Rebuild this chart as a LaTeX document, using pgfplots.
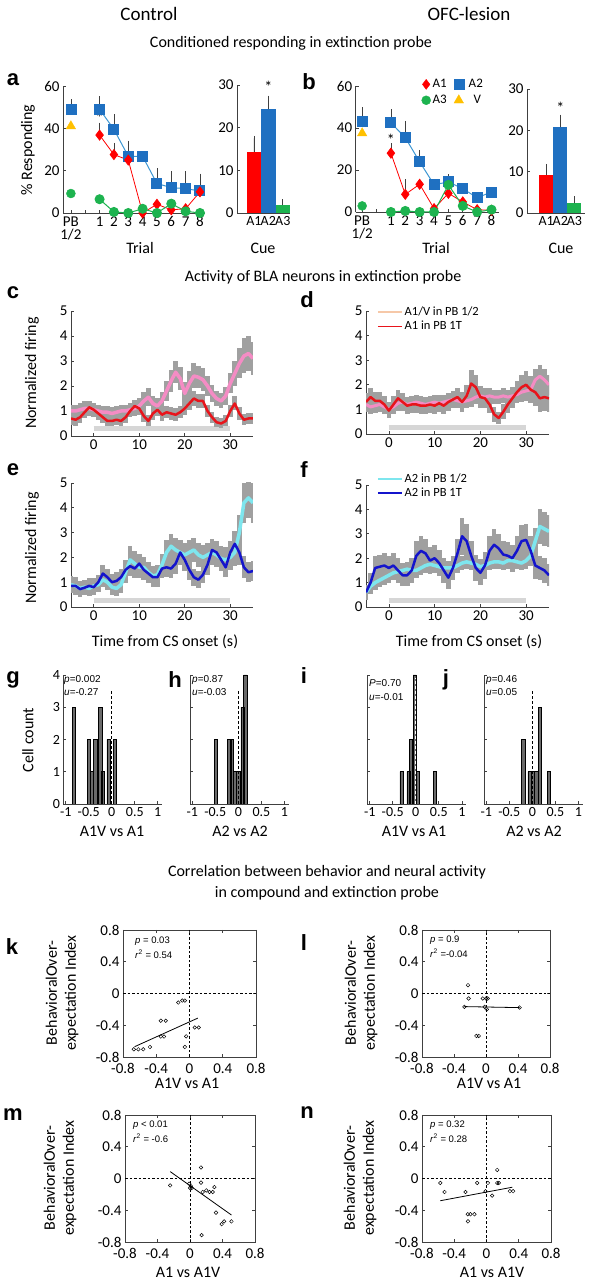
\documentclass[border=0pt]{standalone}
\usepackage{fontspec}
\setmainfont{Carlito}
\newfontfamily\arial{Liberation Sans}
\usepackage{pgfplots}
\usepackage{pgfplotstable}
\pgfplotsset{compat=1.18}
\newcommand{\fs}[1]{\fontsize{#1}{#1}\selectfont}
\definecolor{cRed}{HTML}{FF0000}
\definecolor{cBlue}{HTML}{1F70C1}
\definecolor{cBlueLine}{HTML}{3C96D2}
\definecolor{cGreen}{HTML}{1DB34F}
\definecolor{cYellow}{HTML}{FFC000}
\definecolor{cPink}{HTML}{F48CC4}
\definecolor{cPeach}{HTML}{F6C8A8}
\definecolor{cTraceRed}{HTML}{E8141B}
\definecolor{cCyan}{HTML}{7EE6EE}
\definecolor{cDBlue}{HTML}{1414CC}
\definecolor{bandgray}{HTML}{A0A0A0}
\definecolor{cStim}{HTML}{D6D6D6}
\definecolor{histgray}{HTML}{6A6A6A}

\pgfplotsset{
  base/.style={scale only axis, /pgf/number format/assume math mode=true,
    tick label style={font=\fs{15}}, tick align=inside, major tick length=3pt,
    axis line style={black!75, line width=0.8pt}, every tick/.style={black!75, line width=0.6pt}},
  open/.style={base, axis x line*=bottom, axis y line*=left},
  errb/.style={error bars/.cd, y dir=plus, y explicit,
    error bar style={black!75, line width=0.7pt},
    error mark options={black!75, line width=0.7pt, mark size=2.5pt}},
  band/.style={draw=none, mark=none, forget plot, error bars/.cd, y dir=both, y explicit,
    error mark=none, error bar style={draw=bandgray, line width=4.7pt, line cap=butt}},
}

\newcommand{\traces}[5]{%
 \addplot[band] table[x=t, y=a, y error=sa] {#1};
 \addplot[band] table[x=t, y=b, y error=sb] {#1};
 \addplot[#2, mark=none, line width=#4, line join=round, forget plot] table[x=t, y=a] {#1};
 \addplot[#3, mark=none, line width=#5, line join=round, forget plot] table[x=t, y=b] {#1};
}

\pgfplotstableread{
t a sa b sb
-5 1.00 0.25 0.70 0.25
-4 1.00 0.25 0.65 0.25
-3 1.05 0.25 0.75 0.25
-2 1.10 0.28 0.95 0.25
-1 1.10 0.30 1.15 0.25
0 1.05 0.28 1.05 0.25
1 1.00 0.25 0.90 0.25
2 0.95 0.25 0.75 0.22
3 0.95 0.25 0.60 0.20
4 0.90 0.25 0.60 0.20
5 0.95 0.25 0.65 0.20
6 1.00 0.25 0.60 0.20
7 1.00 0.25 0.75 0.22
8 1.05 0.28 1.00 0.25
9 1.10 0.30 1.20 0.25
10 1.20 0.30 1.10 0.25
11 1.40 0.35 0.80 0.25
12 1.55 0.35 0.60 0.22
13 1.30 0.30 0.90 0.25
14 1.20 0.30 1.05 0.25
15 1.40 0.35 0.85 0.25
16 1.80 0.40 0.95 0.25
17 2.20 0.45 0.90 0.25
18 2.55 0.45 0.85 0.25
19 2.30 0.45 0.95 0.25
20 1.70 0.45 1.10 0.25
21 2.10 0.50 1.30 0.28
22 2.40 0.50 1.50 0.30
23 2.35 0.45 1.40 0.28
24 2.25 0.45 1.40 0.28
25 2.00 0.40 1.00 0.25
26 1.70 0.35 0.75 0.22
27 1.50 0.30 0.55 0.20
28 1.40 0.30 0.50 0.20
29 1.60 0.35 0.60 0.22
30 2.10 0.40 1.00 0.25
31 2.50 0.50 1.30 0.28
32 2.90 0.60 0.90 0.25
33 3.20 0.70 0.65 0.22
34 3.30 0.70 0.70 0.22
35 3.10 0.65 0.70 0.22
}\tabc

\pgfplotstableread{
t a sa b sb
-5 1.20 0.30 1.30 0.35
-4 1.10 0.30 1.50 0.35
-3 1.15 0.30 1.35 0.35
-2 1.20 0.30 1.35 0.35
-1 1.10 0.30 1.20 0.35
0 1.00 0.30 0.95 0.30
1 1.10 0.30 1.20 0.35
2 1.25 0.30 1.45 0.35
3 1.30 0.30 1.30 0.35
4 1.20 0.30 1.15 0.35
5 1.25 0.30 1.20 0.35
6 1.30 0.30 1.20 0.35
7 1.25 0.30 1.15 0.35
8 1.20 0.30 1.15 0.35
9 1.25 0.30 1.20 0.35
10 1.30 0.30 1.15 0.35
11 1.25 0.30 1.25 0.35
12 1.30 0.30 1.15 0.35
13 1.35 0.30 1.30 0.35
14 1.40 0.30 1.40 0.35
15 1.35 0.30 1.50 0.35
16 1.30 0.30 1.30 0.40
17 1.35 0.30 1.55 0.45
18 1.40 0.30 2.05 0.55
19 1.50 0.30 1.90 0.50
20 1.55 0.30 1.50 0.45
21 1.50 0.30 1.45 0.40
22 1.55 0.30 1.20 0.35
23 1.50 0.30 0.80 0.30
24 1.50 0.30 0.65 0.25
25 1.55 0.30 0.90 0.30
26 1.50 0.30 1.20 0.35
27 1.55 0.35 1.45 0.40
28 1.60 0.35 1.70 0.45
29 1.70 0.40 1.90 0.50
30 1.75 0.40 2.00 0.55
31 1.80 0.40 1.80 0.55
32 2.20 0.45 1.70 0.55
33 2.35 0.45 1.45 0.55
34 2.20 0.45 1.50 0.55
35 2.00 0.40 1.45 0.55
}\tabd

\pgfplotstableread{
t a sa b sb
-5 0.90 0.35 0.85 0.30
-4 0.85 0.35 0.85 0.30
-3 0.75 0.30 0.72 0.30
-2 0.80 0.30 0.78 0.30
-1 0.75 0.30 0.85 0.30
0 0.85 0.30 0.80 0.30
1 0.90 0.30 1.00 0.30
2 1.10 0.30 1.35 0.35
3 1.00 0.30 1.20 0.35
4 0.80 0.30 1.00 0.35
5 0.75 0.30 1.05 0.35
6 0.90 0.35 1.20 0.35
7 1.40 0.45 1.50 0.40
8 1.90 0.55 1.65 0.40
9 1.75 0.50 1.55 0.40
10 1.60 0.45 1.75 0.40
11 1.60 0.40 1.50 0.40
12 1.40 0.40 1.35 0.40
13 1.25 0.40 1.20 0.40
14 1.30 0.40 1.20 0.40
15 1.70 0.45 1.55 0.40
16 2.20 0.50 1.60 0.40
17 2.45 0.50 1.55 0.40
18 2.30 0.50 1.75 0.40
19 2.20 0.50 2.20 0.45
20 2.10 0.50 1.90 0.45
21 2.20 0.50 1.50 0.40
22 2.30 0.50 1.20 0.35
23 2.10 0.50 1.10 0.35
24 2.00 0.50 1.30 0.35
25 2.10 0.50 1.70 0.40
26 2.20 0.50 2.30 0.45
27 2.10 0.50 2.20 0.45
28 1.95 0.50 1.90 0.45
29 1.90 0.50 1.60 0.40
30 2.00 0.50 2.20 0.45
31 2.20 0.55 2.55 0.50
32 3.00 0.70 2.20 0.50
33 4.20 0.80 1.60 0.45
34 4.40 0.80 1.40 0.40
35 4.20 0.80 1.45 0.40
}\tabe

\pgfplotstableread{
t a sa b sb
-5 0.60 0.25 0.60 0.30
-4 0.85 0.30 1.00 0.40
-3 1.00 0.30 1.60 0.50
-2 1.10 0.30 1.65 0.50
-1 1.20 0.30 1.70 0.50
0 1.30 0.30 1.60 0.50
1 1.40 0.30 1.70 0.50
2 1.45 0.30 1.50 0.50
3 1.50 0.30 1.30 0.45
4 1.55 0.30 1.30 0.45
5 1.50 0.30 1.50 0.50
6 1.50 0.30 2.10 0.60
7 1.60 0.30 2.30 0.60
8 1.70 0.30 2.20 0.60
9 1.75 0.30 1.90 0.55
10 1.70 0.30 2.00 0.55
11 1.65 0.30 1.80 0.55
12 1.60 0.30 1.50 0.50
13 1.60 0.30 1.20 0.45
14 1.60 0.30 1.60 0.50
15 1.70 0.30 2.20 0.60
16 1.80 0.30 2.90 0.75
17 1.85 0.30 2.70 0.70
18 1.80 0.30 2.10 0.60
19 1.75 0.30 1.60 0.55
20 1.65 0.30 1.40 0.50
21 1.70 0.30 1.70 0.55
22 1.80 0.30 2.30 0.60
23 1.85 0.30 2.55 0.65
24 1.85 0.30 2.40 0.60
25 1.80 0.30 2.15 0.55
26 1.90 0.30 2.10 0.55
27 1.90 0.30 2.00 0.55
28 1.85 0.30 2.30 0.60
29 1.80 0.30 2.70 0.65
30 1.90 0.35 2.75 0.65
31 2.10 0.40 2.30 0.60
32 2.70 0.55 1.70 0.55
33 3.30 0.70 1.60 0.50
34 3.20 0.70 1.50 0.50
35 3.10 0.65 1.30 0.45
}\tabf

\begin{document}
\begin{tikzpicture}
\path[use as bounding box] (0pt,0pt) rectangle (594pt,1280pt);

% ---------- titles ----------
\node[font=\fs{19}] at (149pt,1266pt) {Control};
\node[font=\fs{19}] at (469pt,1266pt) {OFC-lesion};
\node[font=\fs{16}] at (291pt,1237pt) {Conditioned responding in extinction probe};
\node[font=\fs{16}] at (323pt,1003pt) {Activity of BLA neurons in extinction probe};
\node[font=\fs{16}] at (327pt,408pt) {Correlation between behavior and neural activity};
\node[font=\fs{16}] at (327pt,387pt) {in compound and extinction probe};

% ---------- letters ----------
\begin{scope}[every node/.style={font=\arial\bfseries\fs{22}}]
\node at (13pt,1200pt) {a};
\node at (309pt,1198pt) {b};
\node at (13pt,987pt) {c};
\node at (307pt,980pt) {d};
\node at (13pt,810pt) {e};
\node at (304pt,810pt) {f};
\node at (13pt,600pt) {g};
\node at (175pt,600pt) {h};
\node at (304pt,604pt) {i};
\node at (446pt,600pt) {j};
\node at (12pt,333pt) {k};
\node at (304pt,337pt) {l};
\node at (13pt,165pt) {m};
\node at (307pt,167pt) {n};
\end{scope}

% ---------- axis labels ----------
\node[rotate=90, font=\fs{16}] at (28pt,1130pt) {\% Responding};
\node[font=\fs{16}] at (140pt,1032pt) {Trial};
\node[font=\fs{16}] at (436pt,1032pt) {Trial};
\node[font=\fs{16}] at (263pt,1032pt) {Cue};
\node[font=\fs{16}] at (561pt,1032pt) {Cue};
\node[rotate=90, font=\fs{16}] at (32pt,907pt) {Normalized firing};
\node[rotate=90, font=\fs{16}] at (32pt,732pt) {Normalized firing};
\node[font=\fs{16}] at (165pt,638pt) {Time from CS onset (s)};
\node[font=\fs{16}] at (469pt,638pt) {Time from CS onset (s)};
\node[rotate=90, font=\fs{16}] at (28pt,540pt) {Cell count};
\node[font=\fs{16}] at (112pt,449pt) {A1V vs A1};
\node[font=\fs{16}] at (240pt,449pt) {A2 vs A2};
\node[font=\fs{16}] at (414pt,449pt) {A1V vs A1};
\node[font=\fs{16}] at (534pt,449pt) {A2 vs A2};
\node[rotate=90, align=center, font=\fontsize{16}{19}\selectfont] at (62pt,287pt) {BehavioralOver-\\expectation Index};
\node[rotate=90, align=center, font=\fontsize{16}{19}\selectfont] at (361pt,287pt) {BehavioralOver-\\expectation Index};
\node[rotate=90, align=center, font=\fontsize{16}{19}\selectfont] at (60pt,102pt) {BehavioralOver-\\expectation Index};
\node[rotate=90, align=center, font=\fontsize{16}{19}\selectfont] at (360pt,102pt) {BehavioralOver-\\expectation Index};
\node[font=\fs{16}] at (187pt,197pt) {A1V vs A1};
\node[font=\fs{16}] at (489pt,197pt) {A1V vs A1};
\node[font=\fs{16}] at (188pt,8pt) {A1 vs A1V};
\node[font=\fs{16}] at (492pt,8pt) {A1 vs A1V};

% ---------- annotations ----------
\begin{scope}[every node/.style={font=\arial\fs{10}, anchor=west, inner sep=0pt}]
\node at (64pt,600pt) {\textit{p}=0.002};
\node at (64pt,588pt) {\textit{u}=-0.27};
\node at (192pt,600pt) {\textit{p}=0.87};
\node at (192pt,588pt) {\textit{u}=-0.03};
\node at (369pt,597pt) {\textit{P}=0.70};
\node at (369pt,583pt) {\textit{u}=-0.01};
\node at (486pt,600pt) {\textit{p}=0.46};
\node at (486pt,588pt) {\textit{u}=0.05};
\end{scope}
\begin{scope}[every node/.style={font=\arial\fs{9.5}, anchor=west, inner sep=0pt}]
\node at (135pt,339pt) {\textit{p} = 0.03};
\node at (135pt,326pt) {\textit{r}\textsuperscript{2} = 0.54};
\node at (430pt,340pt) {\textit{p} = 0.9};
\node at (430pt,327pt) {\textit{r}\textsuperscript{2} =-0.04};
\node at (133pt,155pt) {\textit{p} < 0.01};
\node at (133pt,142pt) {\textit{r}\textsuperscript{2} = -0.6};
\node at (430pt,155pt) {\textit{p} = 0.32};
\node at (430pt,142pt) {\textit{r}\textsuperscript{2} = 0.28};
\end{scope}

% ---------- panel a: line ----------
\begin{axis}[open, at={(63pt,1067pt)}, anchor=south west, width=142pt, height=127pt,
  xmin=-1.55, xmax=8.35, ymin=0, ymax=60, ytick={0,20,40,60},
  xtick={-1,0,1,2,3,4,5,6,7,8}, xticklabels={{PB\\1/2},{},1,2,3,4,5,6,7,8},
  xticklabel style={align=center, font=\fontsize{15}{13}\selectfont}, clip=false]
\addplot[cBlueLine, line width=1pt, mark=square*, mark size=5pt, mark options={fill=cBlue, draw=cBlue}, errb]
 coordinates {(1,49)+-(0,5) (2,39.5)+-(0,6) (3,26.8)+-(0,6.2) (4,26.8)+-(0,0) (5,13.9)+-(0,6.1) (6,12)+-(0,6.6) (7,11.5)+-(0,7.1) (8,10.4)+-(0,7)};
\addplot[only marks, mark=square*, mark size=5pt, cBlue, errb] coordinates {(-1,49)+-(0,3.6)};
\addplot[cRed, line width=0.8pt, mark=diamond*, mark size=5pt, errb]
 coordinates {(1,36.8)+-(0,4.7) (2,27.6)+-(0,4.4) (3,25)+-(0,0) (4,0)+-(0,0) (5,4.1)+-(0,0) (6,1.5)+-(0,0) (7,2)+-(0,0) (8,10)+-(0,0)};
\addplot[cGreen, line width=1pt, mark=*, mark size=4.5pt]
 coordinates {(1,6.5)(2,0.5)(3,0)(4,2)(5,0)(6,4.4)(7,0.8)(8,0)};
\addplot[only marks, mark=*, mark size=4.5pt, cGreen] coordinates {(-1,9.2)};
\addplot[only marks, mark=triangle*, mark size=5.5pt, cYellow] coordinates {(-1,41)};
\node[font=\fs{16}] at (axis cs:1,45) {*};
\end{axis}

% ---------- panel a: bars ----------
\begin{axis}[open, at={(237pt,1067pt)}, anchor=south west, width=53pt, height=128pt,
  xmin=-0.17, xmax=3.5, ymin=0, ymax=30, ytick={0,10,20,30},
  xtick={1,2,3}, xticklabels={A1,A2,A3}, xticklabel style={font=\fs{14}, inner xsep=0pt},
  xtick style={draw=none}, clip=false]
\addplot[ybar, bar width=1, bar shift=0pt, fill=cRed, draw=none, errb] coordinates {(1,14.3)+-(0,3.2)};
\addplot[ybar, bar width=1, bar shift=0pt, fill=cBlue, draw=none, errb] coordinates {(2,24.3)+-(0,2.6)};
\addplot[ybar, bar width=1, bar shift=0pt, fill=cGreen, draw=none, errb] coordinates {(3,1.8)+-(0,0.8)};
\node[font=\fs{16}] at (axis cs:2,29.5) {*};
\end{axis}

% ---------- panel b: line ----------
\begin{axis}[open, at={(355.7pt,1068pt)}, anchor=south west, width=143pt, height=126pt,
  xmin=-1.45, xmax=8.5, ymin=0, ymax=60, ytick={0,20,40,60},
  xtick={-1,0,1,2,3,4,5,6,7,8}, xticklabels={{PB\\1/2},{},1,2,3,4,5,6,7,8},
  xticklabel style={align=center, font=\fontsize{15}{13}\selectfont}, clip=false,
  legend style={at={(0.46,1.07)}, anchor=north west, draw=none, fill=none, font=\fs{13},
    inner sep=0pt, row sep=2pt, /tikz/every even column/.append style={column sep=5pt}},
  legend columns=2]
\addplot[forget plot, cBlueLine, line width=1pt, mark=square*, mark size=5pt, mark options={fill=cBlue, draw=cBlue}, errb]
 coordinates {(1,42.5)+-(0,5.3) (2,35.4)+-(0,6.8) (3,23.9)+-(0,4.3) (4,13)+-(0,0) (5,14.3)+-(0,2.4) (6,11.1)+-(0,0) (7,6.8)+-(0,0) (8,9.5)+-(0,0)};
\addplot[forget plot, only marks, mark=square*, mark size=5pt, cBlue, errb] coordinates {(-1,43.3)+-(0,5.3)};
\addplot[forget plot, cRed, line width=0.8pt, mark=diamond*, mark size=5pt, errb]
 coordinates {(1,28)+-(0,3.5) (2,8.4)+-(0,5.9) (3,13.2)+-(0,0) (4,1.6)+-(0,0) (5,8.9)+-(0,0) (6,4.8)+-(0,0) (7,1.1)+-(0,0) (8,0.8)+-(0,0)};
\addplot[forget plot, cGreen, line width=1pt, mark=*, mark size=4.5pt]
 coordinates {(1,0)(2,0.5)(3,0)(4,0)(5,12.9)(6,2.9)(7,0)(8,1.1)};
\addplot[forget plot, only marks, mark=*, mark size=4.5pt, cGreen] coordinates {(-1,2.9)};
\addplot[forget plot, only marks, mark=triangle*, mark size=5.5pt, cYellow] coordinates {(-1,37.5)};
\node[font=\fs{16}] at (axis cs:1,34.5) {*};
\addlegendimage{only marks, mark=diamond*, mark size=5pt, cRed}
\addlegendentry{A1}
\addlegendimage{only marks, mark=square*, mark size=5pt, cBlue}
\addlegendentry{\ A2}
\addlegendimage{only marks, mark=*, mark size=4.5pt, cGreen}
\addlegendentry{A3}
\addlegendimage{only marks, mark=triangle*, mark size=5.5pt, cYellow}
\addlegendentry{\ \ V}
\end{axis}

% ---------- panel b: bars ----------
\begin{axis}[open, at={(527pt,1067pt)}, anchor=south west, width=58pt, height=124pt,
  xmin=-0.36, xmax=3.75, ymin=0, ymax=30, ytick={0,10,20,30},
  xtick={1,2,3}, xticklabels={A1,A2,A3}, xticklabel style={font=\fs{14}, inner xsep=0pt},
  xtick style={draw=none}, clip=false]
\addplot[ybar, bar width=1, bar shift=0pt, fill=cRed, draw=none, errb] coordinates {(1,9.3)+-(0,2.0)};
\addplot[ybar, bar width=1, bar shift=0pt, fill=cBlue, draw=none, errb] coordinates {(2,20.7)+-(0,2.5)};
\addplot[ybar, bar width=1, bar shift=0pt, fill=cGreen, draw=none, errb] coordinates {(3,2.3)+-(0,1.1)};
\node[font=\fs{16}] at (axis cs:2,25.5) {*};
\end{axis}

% ---------- panel c ----------
\begin{axis}[open, at={(71pt,844pt)}, anchor=south west, width=182pt, height=125pt,
  xmin=-5, xmax=35, ymin=0, ymax=5, ytick={0,1,2,3,4,5}, xtick={0,10,20,30}]
\addplot[cStim, line width=5pt, forget plot] coordinates {(0,0.28)(30,0.28)};
\traces{\tabc}{cPink}{cTraceRed}{3.5pt}{2.5pt}
\end{axis}

% ---------- panel d ----------
\begin{axis}[open, at={(366pt,846pt)}, anchor=south west, width=183pt, height=123pt,
  xmin=-5, xmax=35, ymin=0, ymax=5, ytick={0,1,2,3,4,5}, xtick={0,10,20,30},
  legend style={at={(0.06,1.05)}, anchor=north west, draw=none, fill=none, font=\fs{12.5},
    inner sep=0pt, row sep=0pt, cells={anchor=west}},
  legend image code/.code={\draw[#1, line width=1.5pt] (0pt,0pt) -- (24pt,0pt);}]
\addplot[cStim, line width=5pt, forget plot] coordinates {(0,0.28)(30,0.28)};
\traces{\tabd}{cPink}{cTraceRed}{3pt}{2.5pt}
\addlegendimage{cPeach}
\addlegendentry{A1/V in PB 1/2}
\addlegendimage{cTraceRed}
\addlegendentry{A1 in PB 1T}
\end{axis}

% ---------- panel e ----------
\begin{axis}[open, at={(71pt,673pt)}, anchor=south west, width=182pt, height=124pt,
  xmin=-5, xmax=35, ymin=0, ymax=5, ytick={0,1,2,3,4,5}, xtick={0,10,20,30}]
\addplot[cStim, line width=5pt, forget plot] coordinates {(0,0.28)(30,0.28)};
\traces{\tabe}{cCyan}{cDBlue}{3.5pt}{2.5pt}
\end{axis}

% ---------- panel f ----------
\begin{axis}[open, at={(366pt,673pt)}, anchor=south west, width=183pt, height=122pt,
  xmin=-5, xmax=35, ymin=0, ymax=5, ytick={0,1,2,3,4,5}, xtick={0,10,20,30},
  legend style={at={(0.06,1.11)}, anchor=north west, draw=none, fill=none, font=\fs{12.5},
    inner sep=0pt, row sep=0pt, cells={anchor=west}},
  legend image code/.code={\draw[#1, line width=1.5pt] (0pt,0pt) -- (24pt,0pt);}]
\addplot[cStim, line width=5pt, forget plot] coordinates {(0,0.28)(30,0.28)};
\traces{\tabf}{cCyan}{cDBlue}{3.5pt}{2.5pt}
\addlegendimage{cCyan}
\addlegendentry{A2 in PB 1/2}
\addlegendimage{cDBlue}
\addlegendentry{A2 in PB 1T}
\end{axis}

% ---------- histograms ----------
\pgfplotsset{histax/.style={open, anchor=south west, width=99pt, height=129pt,
  xmin=-1.05, xmax=1.1, ymin=0, ymax=4, ytick={0,1,2,3,4},
  xtick={-1,-0.5,0,0.5,1}, xticklabels={-1,-0.5,0,0.5,1}, tick label style={font=\fs{14}}},
  hbar/.style={ybar, bar width=0.07, bar shift=0pt, fill=histgray, draw=black, line width=0.5pt},
  hdash/.style={line width=1.3pt, dash pattern=on 3pt off 2pt}}
\begin{axis}[histax, at={(63.4pt,476pt)}]
\addplot[hbar] coordinates {(-0.82,3)(-0.50,2)(-0.44,1)(-0.36,2)(-0.25,3)(-0.19,1)(-0.07,2)(0.07,2)};
\addplot[hdash, black] coordinates {(0,0)(0,3.5)};
\end{axis}
\begin{axis}[histax, at={(190pt,476pt)}, yticklabels={}]
\addplot[hbar] coordinates {(-0.49,2)(-0.20,2)(-0.14,2)(-0.07,1)(0.0,1)(0.09,3)(0.15,4)};
\addplot[hdash, black] coordinates {(0,0)(0,3.5)};
\end{axis}
\begin{axis}[histax, at={(367.4pt,476pt)}, yticklabels={}]
\addplot[hbar] coordinates {(-0.31,1)(-0.16,1)(-0.11,2)(-0.02,4)(0.05,1)(0.42,1)};
\addplot[hdash, white] coordinates {(0,0)(0,3.9)};
\end{axis}
\begin{axis}[histax, at={(484pt,476pt)}, yticklabels={}]
\addplot[hbar] coordinates {(-0.20,2)(-0.06,1)(0.01,1)(0.085,1)(0.16,3)(0.36,1)};
\addplot[hdash, black] coordinates {(0,0)(0,3.5)};
\end{axis}

% ---------- scatter ----------
\pgfplotsset{scax/.style={base, anchor=south west, height=127pt,
  xmin=-0.8, xmax=0.8, ymin=-0.8, ymax=0.8,
  xtick={-0.8,-0.4,0,0.4,0.8}, ytick={-0.8,-0.4,0,0.4,0.8},
  xticklabels={-0.8,-0.4,0,0.4,0.8}, yticklabels={-0.8,-0.4,0,0.4,0.8},
  xticklabel style={yshift=-3pt}},
  sdash/.style={black, line width=0.9pt, dash pattern=on 2.5pt off 2pt},
  spts/.style={only marks, mark=o, mark size=1.8pt, black, mark options={line width=0.5pt}},
  sfit/.style={black, line width=0.8pt}}
\begin{axis}[scax, at={(123pt,223pt)}, width=133pt]
\addplot[sdash] coordinates {(0,-0.8)(0,0.8)};
\addplot[sdash] coordinates {(-0.8,0)(0.8,0)};
\addplot[spts] coordinates {(-0.135,-0.114)(-0.087,-0.089)(-0.056,-0.089)(-0.345,-0.343)(-0.286,-0.343)(-0.345,-0.542)(-0.306,-0.542)(0.063,-0.428)(0.111,-0.428)(-0.04,-0.54)(-0.056,-0.674)(-0.67,-0.703)(-0.615,-0.703)(-0.556,-0.703)(-0.476,-0.674)};
\addplot[sfit] coordinates {(-0.66,-0.67)(0.10,-0.31)};
\end{axis}
\begin{axis}[scax, at={(422pt,223pt)}, width=128pt]
\addplot[sdash] coordinates {(0,-0.8)(0,0.8)};
\addplot[sdash] coordinates {(-0.8,0)(0.8,0)};
\addplot[spts] coordinates {(-0.225,0.105)(-0.217,-0.063)(-0.04,-0.063)(0,-0.063)(0.02,-0.063)(-0.27,-0.168)(-0.017,-0.168)(0.01,-0.2)(0.42,-0.177)(-0.12,-0.535)(-0.09,-0.535)};
\addplot[sfit] coordinates {(-0.27,-0.165)(0.42,-0.178)};
\end{axis}
\begin{axis}[scax, at={(125pt,38pt)}, width=130pt]
\addplot[sdash] coordinates {(0,-0.8)(0,0.8)};
\addplot[sdash] coordinates {(-0.8,0)(0.8,0)};
\addplot[spts] coordinates {(-0.244,-0.087)(-0.01,-0.065)(0.01,-0.095)(0.0,-0.12)(0.02,-0.12)(0.135,0.139)(0.135,-0.052)(0.156,-0.17)(0.20,-0.15)(0.24,-0.17)(0.28,-0.17)(0.30,-0.108)(0.32,-0.43)(0.39,-0.575)(0.42,-0.54)(0.51,-0.54)(0.143,-0.714)};
\addplot[sfit] coordinates {(-0.244,0.087)(0.51,-0.46)};
\end{axis}
\begin{axis}[scax, at={(422pt,38pt)}, width=129pt]
\addplot[sdash] coordinates {(0,-0.8)(0,0.8)};
\addplot[sdash] coordinates {(-0.8,0)(0.8,0)};
\addplot[spts] coordinates {(-0.573,-0.056)(-0.52,-0.17)(-0.26,-0.17)(-0.232,-0.45)(-0.20,-0.45)(-0.15,-0.45)(-0.23,-0.54)(-0.116,-0.056)(0.017,-0.056)(-0.012,-0.16)(0.07,-0.216)(0.133,-0.056)(0.153,-0.056)(0.133,0.108)(0.29,-0.16)(0.33,-0.16)};
\addplot[sfit] coordinates {(-0.573,-0.28)(0.32,-0.11)};
\end{axis}
\end{tikzpicture}
\end{document}
